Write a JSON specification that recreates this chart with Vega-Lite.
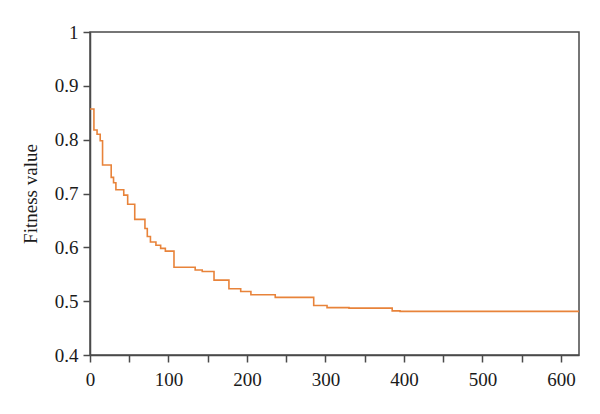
{
  "$schema": "https://vega.github.io/schema/vega-lite/v6.json",
  "autosize": "none",
  "padding": {"left": 90, "top": 32, "right": 21, "bottom": 59},
  "width": 489,
  "height": 323,
  "background": "white",
  "config": {
    "view": {"stroke": "#4a4a4a", "strokeWidth": 1.5},
    "axis": {
      "labelFont": "Liberation Serif",
      "titleFont": "Liberation Serif",
      "labelFontSize": 19,
      "titleFontSize": 19,
      "labelColor": "#1a1a1a",
      "titleColor": "#1a1a1a",
      "titleFontWeight": "normal",
      "domainColor": "#4a4a4a",
      "domainWidth": 1.5,
      "tickColor": "#4a4a4a",
      "tickWidth": 1.5,
      "tickSize": 7,
      "grid": false
    }
  },
  "data": {
    "values": [
      {"iter": 0, "fitness": 0.857},
      {"iter": 5, "fitness": 0.818},
      {"iter": 9, "fitness": 0.81},
      {"iter": 13, "fitness": 0.798},
      {"iter": 16, "fitness": 0.753},
      {"iter": 27, "fitness": 0.73},
      {"iter": 30, "fitness": 0.72},
      {"iter": 33, "fitness": 0.707},
      {"iter": 43, "fitness": 0.697},
      {"iter": 48, "fitness": 0.68},
      {"iter": 57, "fitness": 0.652},
      {"iter": 70, "fitness": 0.635},
      {"iter": 73, "fitness": 0.62},
      {"iter": 77, "fitness": 0.61},
      {"iter": 84, "fitness": 0.604},
      {"iter": 90, "fitness": 0.598},
      {"iter": 96, "fitness": 0.593},
      {"iter": 107, "fitness": 0.563},
      {"iter": 134, "fitness": 0.558},
      {"iter": 143, "fitness": 0.555},
      {"iter": 158, "fitness": 0.539},
      {"iter": 177, "fitness": 0.523},
      {"iter": 192, "fitness": 0.518},
      {"iter": 205, "fitness": 0.512},
      {"iter": 236, "fitness": 0.507},
      {"iter": 285, "fitness": 0.492},
      {"iter": 302, "fitness": 0.488},
      {"iter": 330, "fitness": 0.487},
      {"iter": 385, "fitness": 0.482},
      {"iter": 395, "fitness": 0.481},
      {"iter": 623, "fitness": 0.481}
    ]
  },
  "mark": {"type": "line", "interpolate": "step-after", "color": "#E8833A", "strokeWidth": 1.6, "clip": true},
  "encoding": {
    "x": {
      "field": "iter",
      "type": "quantitative",
      "scale": {"domain": [0, 623], "nice": false, "zero": false},
      "axis": {
        "title": null,
        "values": [0, 50, 100, 150, 200, 250, 300, 350, 400, 450, 500, 550, 600],
        "labelExpr": "datum.value % 100 == 0 ? datum.label : ''",
        "labelPadding": 8,
        "labelFlush": false
      }
    },
    "y": {
      "field": "fitness",
      "type": "quantitative",
      "scale": {"domain": [0.4, 1], "nice": false, "zero": false},
      "axis": {
        "title": "Fitness value",
        "values": [0.4, 0.5, 0.6, 0.7, 0.8, 0.9, 1],
        "format": "~g",
        "labelPadding": 5,
        "titlePadding": 14
      }
    }
  }
}
